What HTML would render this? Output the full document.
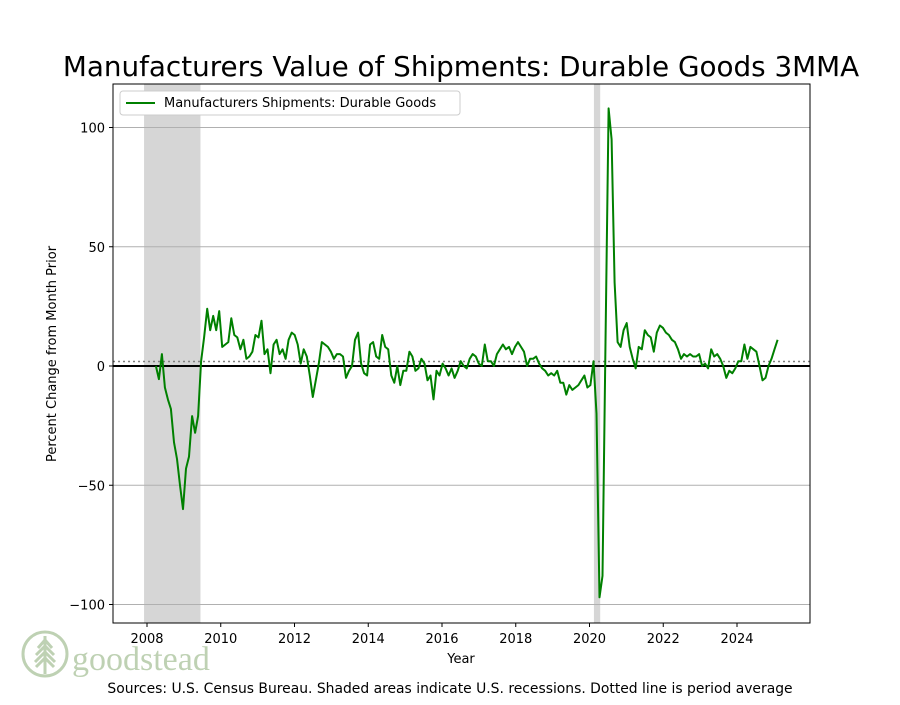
<!DOCTYPE html>
<html><head><meta charset="utf-8"><style>
body{margin:0;background:#fff;font-family:"Liberation Sans","DejaVu Sans",sans-serif}
svg text{font-family:"DejaVu Sans","Liberation Sans",sans-serif}
</style></head><body>
<svg id="chart" width="900" height="700" xmlns="http://www.w3.org/2000/svg">
<rect width="900" height="700" fill="#fff"/>
<text x="461" y="76" font-size="27.8" text-anchor="middle" fill="#000">Manufacturers Value of Shipments: Durable Goods 3MMA</text>
<g id="plot"></g>
<text x="461" y="663" font-size="13" text-anchor="middle">Year</text>
<text transform="translate(56,354) rotate(-90)" font-size="13" text-anchor="middle">Percent Change from Month Prior</text>
<text x="450" y="693" font-size="13.9" text-anchor="middle">Sources: U.S. Census Bureau. Shaded areas indicate U.S. recessions. Dotted line is period average</text>
<g opacity="0.75">
<circle cx="45" cy="654" r="22" fill="none" stroke="#a9c29a" stroke-width="3"/>
<path d="M45 636 L45 674 M45 640 L38 648 M45 640 L52 648 M45 646 L36 655 M45 646 L54 655 M45 652 L35 662 M45 652 L55 662 M45 658 L36 667 M45 658 L54 667" stroke="#a9c29a" stroke-width="3" fill="none"/>
<text x="72" y="670" font-size="34" fill="#a9c29a" style="font-family:'Liberation Serif',serif">goodstead</text>
</g>
<g>
<rect x="120" y="91" width="340" height="24" rx="3" fill="#fff" stroke="#ccc"/>
<line x1="126" y1="103" x2="155" y2="103" stroke="#008000" stroke-width="2"/>
<text x="164" y="107" font-size="13">Manufacturers Shipments: Durable Goods</text>
</g>
</svg>
<script>
const values=[0,-5.5,5,-9,-14,-18,-32,-39,-50,-60,-43,-38,-21,-28,-21,2,12,24,15,21,15,23,8,9,10,20,13,12,7,11,3,4,6,13,12,19,5,7,-3,9,11,5,7,3,11,14,13,9,1,7,4,-4,-13,-6,1,10,9,8,6,3,5,5,4,-5,-2,0,11,14,1,-3,-4,9,10,4,3,13,8,7,-4,-7,0,-8,-2,-2,6,4,-2,-1,3,1,-6,-4,-14,-2,-4,1,-1,-4,-1,-5,-2,2,0,-1,3,5,4,1,0,9,2,2,0,5,7,9,7,8,5,8,10,8,6,0,3,3,4,1,-1,-2,-4,-3,-4,-2,-7,-7,-12,-8,-10,-9,-8,-6,-4,-9,-8,2,-20,-97,-88,10,108,95,35,10,8,15,18,8,3,-1,8,7,15,13,12,6,14,17,16,14,13,11,10,7,3,5,4,5,4,4,5,0,1,-1,7,4,5,3,0,-5,-2,-3,-1,2,2,9,3,8,7,6,0,-6,-5,0,3,7,11];
const startYear=2008.24, endYear=2025.1;
const recessions=[[2007.92,2009.45],[2020.12,2020.29]];
const yTicks=[100,50,0,-50,-100];
const xTicks=[2008,2010,2012,2014,2016,2018,2020,2022,2024];
const L=113,R=810,T=84,B=623;
function xs(v){return 147+(v-2008)*36.875;}
function ys(v){return 366-v*2.385;}
const NS="http://www.w3.org/2000/svg";
const g=document.getElementById('plot');
function mk(t,a){const e=document.createElementNS(NS,t);for(const k in a)e.setAttribute(k,a[k]);g.appendChild(e);return e;}
recessions.forEach(r=>{const e=mk('rect',{x:xs(r[0]),y:T,width:xs(r[1])-xs(r[0]),height:B-T,fill:'#d6d6d6'});

});
yTicks.forEach(v=>{if(v!==0){const l=mk('line',{x1:L,x2:R,y1:ys(v),y2:ys(v),stroke:'#b0b0b0','stroke-width':1});

}
mk('line',{x1:L-4,x2:L,y1:ys(v),y2:ys(v),stroke:'#000'});
const t=mk('text',{x:L-8,y:ys(v)+5,'font-size':13,'text-anchor':'end'});t.textContent=v<0?'\u2212'+(-v):v;

});
xTicks.forEach(v=>{mk('line',{x1:xs(v),x2:xs(v),y1:B,y2:B+4,stroke:'#000'});
const t=mk('text',{x:xs(v),y:B+20,'font-size':13,'text-anchor':'middle'});t.textContent=v;

});
const n=values.length,step=(endYear-startYear)/(n-1);
const mean=values.reduce((a,b)=>a+b,0)/n;
const ml=mk('line',{x1:L,x2:R,y1:ys(mean),y2:ys(mean),stroke:'#808080','stroke-width':1.5,'stroke-dasharray':'2,3'});


const zl=mk('line',{x1:L,x2:R,y1:ys(0),y2:ys(0),stroke:'#000','stroke-width':2});


const pts=values.map((v,i)=>xs(startYear+i*step).toFixed(1)+','+ys(v).toFixed(1)).join(' ');
const pl=mk('polyline',{points:pts,fill:'none',stroke:'#008000','stroke-width':2,'stroke-linejoin':'round'});


const fr=mk('rect',{x:L,y:T,width:R-L,height:B-T,fill:'none',stroke:'#000'});


</script>
</body></html>
